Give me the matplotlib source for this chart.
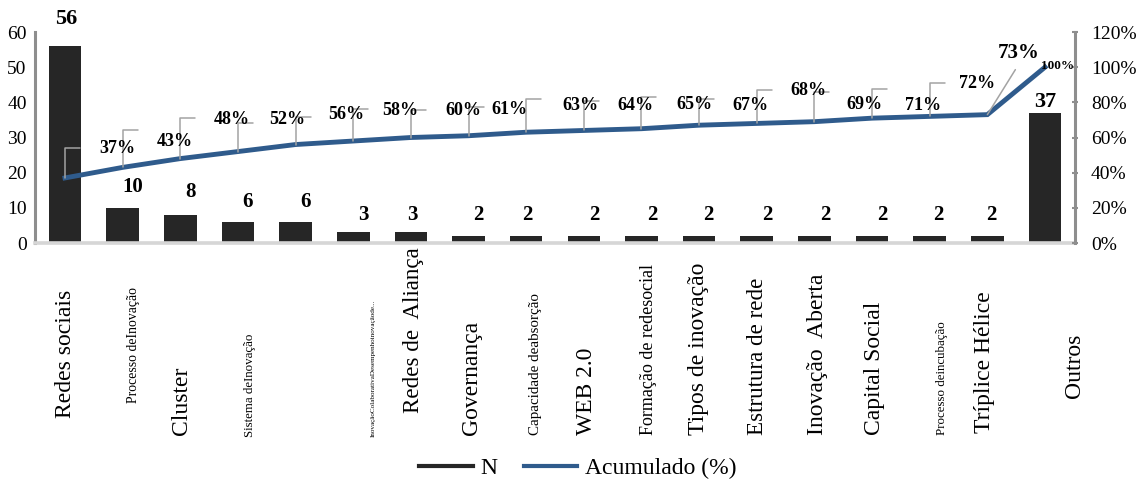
import matplotlib
matplotlib.use("Agg")
import matplotlib.pyplot as plt
from matplotlib.lines import Line2D
from matplotlib.ticker import FuncFormatter

plt.rcParams["font.family"] = ["Liberation Serif", "DejaVu Serif"]

# ---- data -------------------------------------------------------------
categories = [
    "Redes sociais", "Processo deInovação", "Cluster", "Sistema deInovação", "",
    "InovaçãoColaborativaDesempenhoinovaçãode...", "Redes de  Aliança", "Governança",
    "Capacidade deabsorção", "WEB 2.0", "Formação de redesocial", "Tipos de inovação",
    "Estrutura de rede", "Inovação  Aberta", "Capital Social", "Processo deincubação",
    "Tríplice Hélice", "Outros",
]
counts = [56, 10, 8, 6, 6, 3, 3, 2, 2, 2, 2, 2, 2, 2, 2, 2, 2, 37]
cumulative_pct = [37, 43, 48, 52, 56, 58, 60, 61, 63, 64, 65, 67, 68, 69, 71, 72, 73, 100]
count_ticks = [0, 10, 20, 30, 40, 50, 60]
pct_ticks = [0, 20, 40, 60, 80, 100, 120]
legend_labels = ["N", "Acumulado (%)"]

# ---- styling ----------------------------------------------------------
BAR_COLOR = "#262626"
LINE_COLOR = "#2F5B8C"
AXIS_GREY = "#8E8E8E"
BASE_GREY = "#D6D6D6"
LEADER_GREY = "#A3A3A3"

# category label font sizes, horizontal nudges (px) and baseline start (px from top)
cat_sizes = [17, 9.9, 17, 9.3, 9, 5.1, 16.6, 17, 10.8, 17, 13, 17, 16.6, 17, 17, 9.3, 17, 17]
cat_dx = [1, 11, 1, 12, 0, 20, 3, 3, 9, 3, 7, -1, 1, 3, 2, 12, -3, 29]
cat_bottom = [418, 403, 435, 437, 437, 437, 413, 435, 435, 435, 435, 435, 435, 435, 435, 435, 433, 398]

# bar value label nudges (px): right, up from bar top
bar_dx = [1, 10, 10, 10, 10, 10, 1, 10, 1, 10, 11, 9, 11, 11, 10, 9, 4, 0]
bar_dy = [27, 21, 23, 20, 20, 17, 17, 21, 21, 21, 21, 21, 21, 21, 21, 21, 21, 11]
bar_fs = [16, 15, 15, 15, 15, 15, 15, 15, 15, 15, 15, 15, 15, 15, 15, 15, 15, 16]

# cumulative label nudges (px) and leader heights (px)
pct_dx = [52, 52, 52, 49, 51, 47, 52, 41, 54, 52, 53, 51, 52, 50, 51, 47, 31, 13]
pct_dy = [29, 26, 39, 32, 30, 31, 27, 26, 27, 25, 24, 20, 33, 17, 13, 33, 62, 1]
pct_fs = [13] * 16 + [15, 9.5]
leader_h = [30, 37, 41, 29, 28, 32, 28, 29, 33, 29, 32, 26, 33, 30, 29, 33]

W, H, DPI = 1145, 487, 100
fig = plt.figure(figsize=(W / DPI, H / DPI), dpi=DPI)
ax = fig.add_axes([35 / W, (H - 243) / H, 1040 / W, 211 / H])
ax2 = ax.twinx()

x = list(range(len(categories)))

# bars
ax.bar(x, counts, width=0.565, color=BAR_COLOR, zorder=2)
ax.set_xlim(-0.52, len(categories) - 0.48)
ax.set_ylim(count_ticks[0], count_ticks[-1])
ax.set_yticks(count_ticks)
ax.set_xticks([])

# cumulative line
ax2.plot(x, cumulative_pct, color=LINE_COLOR, lw=3.5, solid_joinstyle="miter", zorder=3)
ax2.set_ylim(pct_ticks[0], pct_ticks[-1])
ax2.set_yticks(pct_ticks)
ax2.yaxis.set_major_formatter(FuncFormatter(lambda v, _: f"{v:.0f}%"))

# spines and ticks
for a in (ax, ax2):
    a.spines["top"].set_visible(False)
ax.spines["right"].set_visible(False)
ax2.spines["left"].set_visible(False)
ax2.spines["bottom"].set_visible(False)
ax.spines["left"].set_color(AXIS_GREY)
ax.spines["left"].set_linewidth(2.2)
ax2.spines["right"].set_color(AXIS_GREY)
ax2.spines["right"].set_linewidth(2.2)
ax.spines["bottom"].set_color(BASE_GREY)
ax.spines["bottom"].set_linewidth(2.6)
ax.tick_params(axis="y", length=0, pad=6, labelsize=14)
ax2.tick_params(axis="y", direction="inout", length=5, width=1.5, color=AXIS_GREY,
                pad=9, labelsize=14)

# bar value labels
for i, n in enumerate(counts):
    ax.annotate(f"{n}", xy=(i, n), xytext=(bar_dx[i], bar_dy[i]),
                textcoords="offset pixels", ha="center", va="center",
                fontsize=bar_fs[i], fontweight="bold", annotation_clip=False)

# leader lines from the cumulative points
for i, v in enumerate(cumulative_pct[:len(leader_h)]):
    ax2.annotate("", xy=(i, v), xytext=(15, leader_h[i]), textcoords="offset pixels",
                 arrowprops=dict(arrowstyle="-", color=LEADER_GREY, lw=1.1,
                                 shrinkA=0, shrinkB=0,
                                 connectionstyle="angle,angleA=0,angleB=90,rad=0"))
k = len(leader_h)
ax2.annotate("", xy=(k, cumulative_pct[k]), xytext=(28, 45), textcoords="offset pixels",
             arrowprops=dict(arrowstyle="-", color=LEADER_GREY, lw=1.1,
                             shrinkA=0, shrinkB=0))

# cumulative labels
for i, v in enumerate(cumulative_pct):
    ax2.annotate(f"{v}%", xy=(i, v), xytext=(pct_dx[i], pct_dy[i]),
                 textcoords="offset pixels", ha="center", va="center",
                 fontsize=pct_fs[i], fontweight="bold", annotation_clip=False, zorder=5)

# category labels, written vertically below the axis
for i, name in enumerate(categories):
    if not name:
        continue
    ax.annotate(name, xy=(i, H - cat_bottom[i]), xycoords=("data", "figure pixels"),
                xytext=(cat_dx[i], 0), textcoords="offset pixels",
                rotation=90, ha="center", va="bottom", fontsize=cat_sizes[i],
                annotation_clip=False)

# legend
handles = [Line2D([], [], color=BAR_COLOR, lw=3), Line2D([], [], color=LINE_COLOR, lw=3)]
fig.legend(handles, legend_labels, loc="center", bbox_to_anchor=(578 / W, (H - 468) / H),
           ncol=2, frameon=False, fontsize=17, handlelength=2.25, handletextpad=0.35,
           columnspacing=1.1)

fig.savefig("out.png", dpi=DPI)
